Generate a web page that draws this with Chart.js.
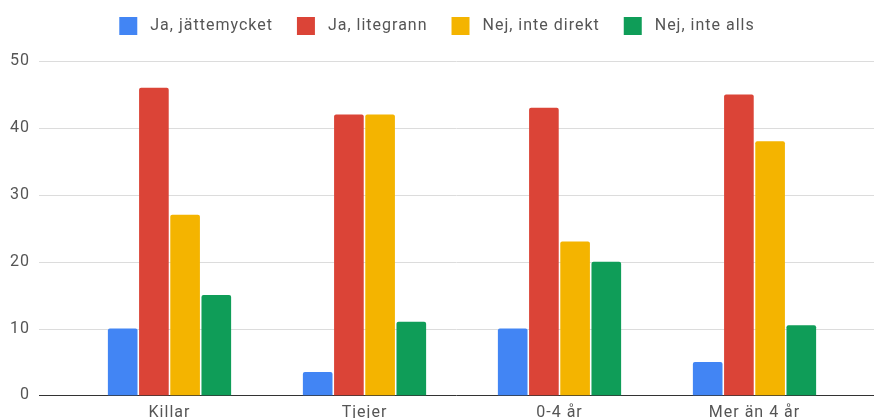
<!DOCTYPE html>
<html>
<head>
<meta charset="utf-8">
<script src="https://cdn.jsdelivr.net/npm/chart.js@4"></script>
<style>
  html, body { margin: 0; padding: 0; background: #fff; overflow: hidden; }
  .wrap { position: relative; width: 874px; height: 447px; }
</style>
</head>
<body>
<div class="wrap"><canvas id="chart"></canvas></div>
<script>
const categories = ['Killar', 'Tjejer', '0-4 år', 'Mer än 4 år'];
const seriesNames = ['Ja, jättemycket', 'Ja, litegrann', 'Nej, inte direkt', 'Nej, inte alls'];
const jatteMycket = [10, 3.5, 10, 5];
const litegrann = [46, 42, 43, 45];
const inteDirekt = [27, 42, 23, 38];
const inteAlls = [15, 11, 20, 10.5];
const yTicks = [0, 10, 20, 30, 40, 50];

const colors = ['#4285F4', '#DB4437', '#F4B400', '#0F9D58'];
const values = [jatteMycket, litegrann, inteDirekt, inteAlls];

// text in the picture is a bit wider than plain Roboto
const spacing = {
  id: 'spacing',
  beforeUpdate(chart) { chart.ctx.letterSpacing = '1px'; },
  beforeDraw(chart) { chart.ctx.letterSpacing = '1px'; }
};

// gridlines run past the plot area, so draw them ourselves
const wideGrid = {
  id: 'wideGrid',
  beforeDatasetsDraw(chart) {
    const y = chart.scales.y;
    const ctx = chart.ctx;
    ctx.save();
    yTicks.forEach(t => {
      const py = Math.round(y.getPixelForValue(t)) + 0.5;
      ctx.strokeStyle = t === 0 ? '#333' : '#dcdcdc';
      ctx.lineWidth = 1;
      ctx.beginPath();
      ctx.moveTo(39, py);
      ctx.lineTo(874, py);
      ctx.stroke();
    });
    ctx.restore();
  }
};

const legendHeight = {
  id: 'legendHeight',
  beforeInit(chart) {
    const fit = chart.legend.fit;
    chart.legend.fit = function () {
      fit.bind(chart.legend)();
      this.height = 68;
    };
  }
};

const defaultLabels = Chart.defaults.plugins.legend.labels.generateLabels;

new Chart(document.getElementById('chart'), {
  type: 'bar',
  data: {
    labels: categories,
    datasets: seriesNames.map((name, i) => ({
      label: name,
      data: values[i],
      backgroundColor: colors[i],
      borderWidth: 0,
      borderRadius: { topLeft: 2, topRight: 2 },
      borderSkipped: 'bottom',
      categoryPercentage: 0.64,
      barPercentage: 0.95
    }))
  },
  plugins: [spacing, wideGrid, legendHeight],
  options: {
    responsive: true,
    maintainAspectRatio: false,
    animation: false,
    layout: { padding: { left: 0, right: 0, top: -7, bottom: 0 } },
    plugins: {
      legend: {
        position: 'top',
        labels: {
          boxWidth: 18,
          boxHeight: 18,
          padding: 24,
          color: '#555',
          font: { family: 'Roboto', size: 16 },
          // a little more room between swatch and text
          generateLabels(chart) {
            return defaultLabels(chart).map(l => ({ ...l, text: ' ' + l.text }));
          }
        }
      },
      tooltip: { enabled: false }
    },
    scales: {
      x: {
        grid: { display: false, drawTicks: false },
        border: { display: false },
        ticks: { color: '#555', padding: 8, font: { family: 'Roboto', size: 16 } },
        afterFit(s) { s.height = 46; }
      },
      y: {
        min: 0,
        max: 50,
        grid: { display: false, drawTicks: false },
        border: { display: false },
        ticks: { stepSize: 10, color: '#555', padding: 42, font: { family: 'Roboto', size: 16 } },
        afterFit(s) { s.width = 72; }
      },
      y2: {
        position: 'right',
        display: true,
        min: 0,
        max: 50,
        grid: { display: false, drawTicks: false },
        border: { display: false },
        ticks: { display: false },
        afterFit(s) { s.width = 22; }
      }
    }
  }
});
</script>
</body>
</html>
